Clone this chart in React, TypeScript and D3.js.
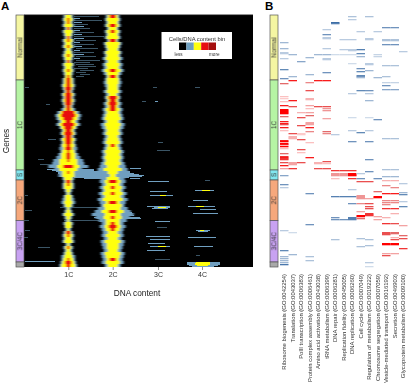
import * as d3 from "d3";
import { useEffect, useRef } from "react";

const width = 408;
const height = 387;

// gene groups, given by the gene rank where each one stops
const groupNames = ["Normal", "1C", "S", "2C", "3C/4C", ""];
const groupEnds = [65, 155, 165, 205.5, 247, 252];
const groupColors = ["#f5f6a2", "#b6f4a4", "#82e8f0", "#f6a87c", "#c8a2f2", "#a9a9a9"];

// DNA content bins
const tickBins = [44.3, 88.7, 134, 178];
const tickLabels = ["1C", "2C", "3C", "4C"];

// each peak is read in rows of 3 genes, values are half widths in bins
const rowGenes = 3;
const peak1Blue = [
  5, 6, 5, 6, 4, 6, 5, 4, 6, 5, 6, 4, 5, 6, 5, 4, 6, 5, 6, 5, 4, 6,
  6, 7, 6, 5, 7, 6, 7, 6, 5, 7, 11, 13, 12, 10, 12, 9, 7, 8, 6, 8, 7, 8, 9, 8, 10,
  12, 15, 16, 20, 14, 9, 10, 6,
  5, 6, 6, 4, 3, 5, 6, 7, 5, 3, 4, 6, 4, 3,
  5, 4, 3, 5, 6, 5, 6, 3, 5, 4, 5, 7, 7, 8, 9,
];
const peak1Yellow = [
  3, 4, 3, 4, 2, 4, 3, 2, 4, 3, 4, 2, 3, 4, 3, 2, 4, 3, 4, 3, 3, 4,
  4, 5, 4, 3, 5, 4, 5, 4, 3, 4, 8, 10, 9, 7, 9, 7, 5, 6, 4, 6, 5, 6, 5, 6, 7,
  7, 9, 9, 11, 9, 6, 6, 4,
  3, 4, 4, 2, 1, 3, 3, 4, 3, 1, 2, 4, 2, 1,
  3, 3, 1, 3, 4, 3, 4, 1, 3, 2, 3, 4, 5, 6, 7,
];
const peak1Red = [
  0, 1, 1, 0, 1, 0, 0, 1, 1, 0, 1, 0, 0, 1, 0, 1, 0, 0, 1, 0, 1, 2,
  2, 2, 3, 2, 3, 3, 3, 3, 2, 2, 6, 7, 5, 3, 6, 4, 3, 4, 3, 3, 3, 2, 3, 1, 2,
  2, 1, 0, 5, 0, 1, 0, 0,
  2, 1, 0, 0, 0, 0, 0, 0, 0, 0, 0, 0, 0, 0,
  0, 0, 0, 2, 1, 0, 0, 0, 1, 0, 0, 0, 1, 3, 2,
];
const peak2Blue = [
  7, 8, 7, 8, 6, 8, 7, 8, 6, 9, 8, 7, 9, 8, 10, 8, 10, 9, 11, 9, 7, 8,
  9, 8, 7, 9, 7, 8, 7, 9, 8, 10, 9, 10, 11, 9, 12, 11, 9, 10, 8, 9, 10, 8, 9, 11, 10,
  11, 10, 12, 13, 15, 12, 10, 12,
  13, 11, 13, 11, 14, 12, 15, 13, 12, 15, 18, 21, 17, 14,
  11, 13, 11, 10, 11, 9, 12, 11, 10, 9, 12, 11, 10, 11, 8,
];
const peak2Yellow = [
  5, 6, 5, 6, 4, 6, 5, 6, 4, 7, 6, 5, 7, 6, 7, 5, 7, 6, 8, 6, 5, 6,
  6, 5, 5, 6, 4, 6, 5, 6, 5, 7, 6, 7, 8, 6, 8, 7, 6, 7, 5, 6, 7, 5, 6, 8, 7,
  8, 7, 8, 6, 9, 5, 3, 6,
  8, 7, 9, 8, 10, 8, 10, 7, 9, 8, 11, 8, 9, 7,
  7, 8, 7, 5, 7, 5, 8, 6, 6, 5, 8, 7, 6, 7, 5,
];
const peak2Red = [
  3, 0, 0, 3, 0, 2, 0, 0, 3, 0, 0, 0, 0, 0, 0, 0, 0, 0, 3, 0, 3, 0,
  0, 0, 0, 0, 0, 4, 3, 4, 3, 3, 0, 0, 0, 0, 0, 0, 0, 0, 0, 0, 0, 2, 0, 0, 0,
  0, 0, 0, 0, 0, 0, 0, 0,
  4, 0, 2, 0, 2, 0, 0, 4, 0, 0, 4, 0, 2, 0,
  2, 4, 2, 0, 0, 0, 0, 0, 0, 0, 0, 0, 3, 0, 0,
];

// thin rows away from the peaks: [gene, first bin, last bin, level]
const streaks = [
  [1, 50, 75, 0], [3, 50, 56, 1], [5, 50, 78, 0], [7, 50, 58, 1], [9, 50, 64, 0], [11, 50, 60, 1],
  [13, 50, 66, 0], [15, 50, 56, 1], [17, 50, 70, 0], [19, 50, 58, 1], [21, 50, 80, 0], [23, 50, 60, 1],
  [25, 52, 72, 0], [27, 50, 56, 1], [29, 50, 70, 0], [31, 50, 58, 1], [33, 52, 74, 0], [35, 50, 56, 1],
  [37, 50, 70, 0], [39, 50, 60, 1], [41, 52, 72, 0], [43, 50, 56, 1], [45, 52, 76, 0], [47, 50, 66, 0],
  [49, 52, 70, 0], [51, 54, 72, 0], [53, 50, 64, 0], [55, 56, 70, 0], [57, 52, 62, 0], [59, 56, 66, 0],
  [61, 52, 60, 0], [72, 1, 5, 0], [89, 22, 26, 0], [72, 129, 133, 0], [72, 171, 176, 0], [86, 118, 122, 0],
  [86, 131, 134, 1], [124, 24, 32, 0], [144, 14, 20, 0], [149, 16, 31, 0], [151, 30, 48, 1], [154, 23, 70, 1],
  [155, 28, 70, 1], [156, 32, 106, 1], [157, 34, 106, 1], [158, 34, 110, 1], [159, 36, 115, 1], [160, 38, 120, 1],
  [161, 40, 118, 1], [162, 50, 105, 1], [163, 60, 90, 1], [180, 1, 4, 0], [195, 1, 8, 0], [205, 0, 5, 0],
  [215, 1, 6, 0], [222, 0, 4, 0], [232, 14, 26, 0], [246, 1, 31, 1], [192, 36, 80, 0], [205, 40, 75, 0],
  [197, 76, 108, 1], [200, 70, 110, 1], [202, 70, 116, 1], [203, 74, 117, 1],
  [127, 134, 139, 0], [135, 133, 146, 0], [137, 95, 100, 0], [153, 106, 117, 1], [163, 106, 116, 1],
  [166, 124, 145, 1], [176, 126, 143, 1], [180, 126, 149, 1], [191, 123, 146, 1], [192, 130, 146, 1],
  [193, 128, 144, 1], [206, 131, 146, 1], [212, 133, 143, 0], [221, 122, 146, 1], [224, 126, 146, 1],
  [228, 124, 141, 1], [231, 126, 146, 1], [231, 134, 142, 2], [235, 123, 141, 1], [244, 131, 146, 0],
  [192, 134, 142, 2], [180, 136, 142, 2],
  [165, 181, 186, 0], [175, 171, 190, 1], [175, 178, 186, 2], [185, 169, 184, 1], [191, 164, 191, 1],
  [191, 172, 180, 2], [194, 176, 192, 1], [198, 169, 194, 1], [215, 172, 186, 1], [216, 174, 184, 1],
  [215, 176, 180, 2], [222, 164, 192, 1], [231, 170, 189, 1], [240, 172, 176, 0], [247, 163, 196, 1],
  [248, 163, 196, 1], [249, 163, 196, 1], [250, 165, 194, 1], [251, 168, 190, 1], [247, 172, 186, 2],
  [248, 171, 186, 2], [249, 171, 186, 2], [250, 173, 184, 2],
];

// panel B: enrichment per term, [gene, score], red above zero, blue below
const termNames = [
  "Ribosome biogenesis (GO:0042254)",
  "Translation (GO:0043037)",
  "PolII transcription (GO:0006383)",
  "Protein complex assembly (GO:0006461)",
  "Amino acid activation (GO:0043038)",
  "tRNA metabolism (GO:0006399)",
  "DNA repair (GO:0006281)",
  "Replication fidelity (GO:0045005)",
  "DNA replication (GO:0006260)",
  "Cell cycle (GO:0007049)",
  "Regulation of metabolism (GO:0019222)",
  "Chromosome segregation (GO:0007059)",
  "Vesicle-mediated transport (GO:0016192)",
  "Secretion (GO:0046903)",
  "Glycoprotein metabolism (GO:0009100)",
];
const ribosome = [[27,-.4],[33,-.4],[37,-.3],[38,-.3],[43,-.3],[54,-.7],[63,-.6],[68,.6],[81,.3],[83,.25],[86,.3],[90,.9],[94,1],[95,1],[96,1],[97,1],[98,1],[101,.6],[106,.9],[108,.9],[109,.7],[112,.9],[115,.3],[125,.9],[126,1],[128,1],[129,.9],[131,1],[133,.3],[138,.6],[141,.8],[142,.9],[143,.8],[144,.8],[147,.7],[150,.9],[153,.4],[160,-.5],[169,-.6],[172,-.3],[215,-.3],[235,-.7],[241,-.4],[243,-.4],[245,-.4],[247,-.4],[249,-.9]];
const translation = [[39,-.4],[61,-.4],[65,.9],[85,.9],[91,.7],[118,.7],[121,.35],[122,.35],[123,.35],[147,.4],[148,.4],[149,.4],[153,.8],[217,-.2],[239,-.4]];
const polII = [[46,-.5],[97,.35],[102,.7],[110,.7],[118,.25],[119,.25],[124,.7],[134,.7],[137,.3],[147,.7]];
const complexAssembly = [[42,-.4],[59,-.4],[67,.5],[75,.7],[83,.35],[84,.35],[90,.4],[93,.3],[97,.4],[100,.6],[107,.4],[108,.4],[109,.4],[112,.9],[116,.5],[127,.3],[142,.9],[178,-.6],[209,-.6],[241,-.35],[245,-.35]];
const aminoAcid = [[39,-.4],[65,.9],[91,.7],[147,.35],[148,.35],[153,.7]];
const tRNA = [[14,-.3],[19,-.6],[22,-.3],[23,-.3],[33,-.3],[39,-.4],[43,-.3],[44,-.3],[57,-.6],[65,.9],[91,.7],[93,.45],[95,.45],[103,.4],[116,.6],[118,.5],[146,.7],[148,.3],[153,.7]];
const dnaRepair = [[7,-1],[8,-.8],[39,-.2],[119,-.3],[155,.8],[158,.45],[159,.45],[160,.45],[163,.3],[181,-.8],[202,-.6],[204,-.6],[224,-.35]];
const fidelity = [[24,-.3],[34,-.3],[39,-.2],[155,.8],[158,.45],[159,.45],[160,.45],[181,-.8],[204,-.6]];
const dnaReplication = [[1,-.35],[4,-.3],[24,-.3],[34,-.3],[35,-.3],[39,-.2],[48,-.2],[78,-.3],[102,-.2],[115,-.3],[126,-.6],[155,.8],[158,1],[159,1],[160,1],[163,.8],[174,-.3],[181,-.8],[188,-.6],[202,-.8],[203,-.8],[204,-.8]];
const cellCycle = [[16,-.3],[34,-.8],[38,-.7],[41,-.4],[53,-.6],[56,-.7],[60,-.7],[61,-.6],[62,-.4],[75,-.7],[117,-.7],[158,-.3],[163,-.6],[166,.7],[180,.45],[181,.45],[182,.45],[183,.45],[188,.5],[196,.4],[200,1],[201,1],[203,.6],[223,-.35],[231,-.35]];
const regulation = [[1,-.35],[23,-.3],[24,-.3],[48,-.3],[49,-.3],[55,-.4],[75,-.6],[78,-.3],[85,-.4],[102,-.2],[115,-.3],[126,-.6],[144,-.6],[156,-.6],[166,.7],[183,.4],[188,.7],[191,.7],[193,.7],[198,.8],[199,.8],[200,.8],[224,-.35],[230,-.35],[247,-.3],[251,-.2]];
const segregation = [[16,-.3],[39,-.25],[41,-.25],[62,-.4],[104,-.6],[163,-.6],[176,.6],[181,1],[182,1],[201,.4],[204,.4]];
const vesicle = [[12,-.6],[24,-.35],[25,-.35],[29,-.6],[50,-.35],[61,-.35],[67,-.25],[70,-.6],[74,-.5],[123,-.35],[154,-.35],[161,-.4],[165,.35],[170,.5],[178,.9],[185,.5],[187,.5],[189,.5],[193,.8],[202,.35],[208,.8],[217,.7],[218,.7],[219,.7],[228,1],[229,1],[238,.4],[240,.7]];
const secretion = [[12,-.6],[24,-.35],[25,-.35],[29,-.6],[50,-.35],[67,-.25],[74,-.5],[123,-.35],[154,-.35],[161,-.4],[165,.35],[172,.5],[178,.9],[185,.5],[187,.5],[193,.8],[198,.35],[208,.7],[217,.6],[218,.6],[222,.35],[224,.7],[228,1],[229,1],[238,.4]];
const glycoprotein = [[36,-.3],[168,-.3],[177,-.4],[179,-.7],[186,-.3],[191,-.7],[210,.4],[220,.6],[223,.7],[233,.8]];
const termHits = [ribosome, translation, polII, complexAssembly, aminoAcid, tRNA, dnaRepair, fidelity, dnaReplication, cellCycle, regulation, segregation, vesicle, secretion, glycoprotein];

const black = "#000000";
const blue = "#6f9fc0";
const yellow = "#ffff10";
const red = "#e81010";
const darkRed = "#a50f0f";
const streakColors = ["#3a5566", blue, yellow];
const legendColors = [black, blue, yellow, red, darkRed];
const font = "'Liberation Sans', Arial, sans-serif";

const x = d3.scaleLinear().domain([0, 229]).range([24, 253]);
const y = d3.scaleLinear().domain([0, 252]).range([15, 267]);
const term = d3.scaleBand().domain(termNames).range([280, 407.5]);
const score = d3.scaleLinear<string>()
  .domain([-1, -0.6, -0.3, 0, 0.3, 0.6, 1])
  .range(["#3c6ea6", "#6f93bd", "#b9cbe0", "#ffffff", "#fbc0c0", "#e36a6a", "#ff0000"]);

function PeakRows({ center, widths, color }: { center: number; widths: number[]; color: string }) {
  return (
    <g fill={color}>
      {widths.map((w, i) => w > 0 && (
        <rect key={i} x={x(center - w)} y={y(i * rowGenes)} width={x(center + w) - x(center - w)} height={y(rowGenes) - y(0)} />
      ))}
    </g>
  );
}

function GroupBar({ left }: { left: number }) {
  const starts = [0, ...groupEnds];
  return (
    <g>
      {groupNames.map((name, i) => {
        const y0 = y(starts[i]);
        const y1 = y(groupEnds[i]);
        return (
          <g key={i}>
            <rect x={left} y={y0} width={8} height={y1 - y0} fill={groupColors[i]} stroke="#555" strokeWidth={0.7} />
            <text
              transform={`translate(${left + 6.3},${(y0 + y1) / 2}) rotate(-90)`}
              textAnchor="middle" fontSize={6.3} fill="#333" fontFamily={font} filter="url(#inkBlur)"
            >{name}</text>
          </g>
        );
      })}
    </g>
  );
}

export default function App() {
  const axisRef = useRef<SVGGElement>(null);

  useEffect(() => {
    const axis = d3.axisBottom(x)
      .tickValues(tickBins)
      .tickSize(3)
      .tickPadding(2)
      .tickFormat((_, i) => tickLabels[i]);
    const g = d3.select(axisRef.current).call(axis as any);
    g.select(".domain").remove();
    g.selectAll("line").attr("stroke", "#444").attr("stroke-width", 0.6);
    g.selectAll("text").attr("font-size", 7).attr("font-family", font).attr("fill", "#333");
  }, []);

  return (
    <svg width={width} height={height} style={{ position: "absolute", left: 0, top: 0, background: "#fff" }}>
      <defs>
        <filter id="soft" x="-5%" y="-5%" width="110%" height="110%">
          <feGaussianBlur stdDeviation="0.8 0.35" />
        </filter>
        <filter id="softer" x="-5%" y="-5%" width="110%" height="110%">
          <feGaussianBlur stdDeviation="0.4" />
        </filter>
        <filter id="inkBlur" x="-10%" y="-10%" width="120%" height="120%">
          <feGaussianBlur stdDeviation="0.22" />
        </filter>
        <clipPath id="heat"><rect x={x(0)} y={y(0)} width={x(229) - x(0)} height={y(252) - y(0)} /></clipPath>
      </defs>

      <text x={1} y={10} fontSize={11.5} fontWeight="bold" fontFamily={font}>A</text>
      <text x={265} y={10} fontSize={11.5} fontWeight="bold" fontFamily={font}>B</text>

      {/* panel A heat map */}
      <rect x={x(0)} y={y(0)} width={x(229) - x(0)} height={y(252) - y(0)} fill={black} />
      <line x1={x(0)} x2={x(229)} y1={14.6} y2={14.6} stroke="#666" strokeWidth={0.8} />
      <g clipPath="url(#heat)">
        <g filter="url(#softer)">
          {[0, 1].map((level) => (
            <g key={level} fill={streakColors[level]}>
              {streaks.filter((d) => d[3] === level).map((d, i) => (
                <rect key={i} x={x(d[1])} y={y(d[0])} width={x(d[2]) - x(d[1])} height={y(1) - y(0)} />
              ))}
            </g>
          ))}
        </g>
        <g filter="url(#soft)">
          <PeakRows center={tickBins[0]} widths={peak1Blue} color={blue} />
          <PeakRows center={tickBins[1]} widths={peak2Blue} color={blue} />
          <PeakRows center={tickBins[0]} widths={peak1Yellow} color={yellow} />
          <PeakRows center={tickBins[1]} widths={peak2Yellow} color={yellow} />
          <PeakRows center={tickBins[0]} widths={peak1Red} color={red} />
          <PeakRows center={tickBins[1]} widths={peak2Red} color={red} />
        </g>
        <g filter="url(#softer)" fill={yellow}>
          {streaks.filter((d) => d[3] === 2).map((d, i) => (
            <rect key={i} x={x(d[1])} y={y(d[0])} width={x(d[2]) - x(d[1])} height={y(1) - y(0)} />
          ))}
        </g>
      </g>
      <GroupBar left={16} />

      <g ref={axisRef} transform={`translate(0,${y(252)})`} filter="url(#inkBlur)" />
      <g filter="url(#inkBlur)" fontFamily={font} fill="#222">
        <text x={137} y={296} textAnchor="middle" fontSize={8.3}>DNA content</text>
        <text transform="translate(9,141) rotate(-90)" textAnchor="middle" fontSize={8.3}>Genes</text>
      </g>

      {/* legend */}
      <rect x={161.5} y={32} width={70.5} height={27} fill="#fff" />
      <g filter="url(#inkBlur)" fontFamily={font} fill="#333">
        <text x={197} y={40.5} textAnchor="middle" fontSize={5.8}>Cells/DNA content bin</text>
        <text x={174.5} y={55.5} fontSize={4.6}>less</text>
        <text x={209} y={55.5} fontSize={4.6}>more</text>
      </g>
      {legendColors.map((c, i) => (
        <rect key={c} x={179 + i * 7.4} y={42.5} width={7.4} height={7.5} fill={c} />
      ))}

      {/* panel B */}
      <g filter="url(#softer)">
        {termNames.map((name, t) => (
          <g key={name}>
            {termHits[t].map((d, i) => (
              <rect key={i} x={term(name)} y={y(d[0])} width={term.bandwidth()} height={y(1.3) - y(0)} fill={score(d[1])} />
            ))}
          </g>
        ))}
      </g>
      <GroupBar left={270} />
      <g filter="url(#inkBlur)" fontFamily={font} fill="#333" fontSize={5.9} textAnchor="end">
        {termNames.map((name) => (
          <text key={name} transform={`translate(${term(name)! + term.bandwidth() / 2 + 2},274) rotate(-90)`}>{name}</text>
        ))}
      </g>
    </svg>
  );
}
